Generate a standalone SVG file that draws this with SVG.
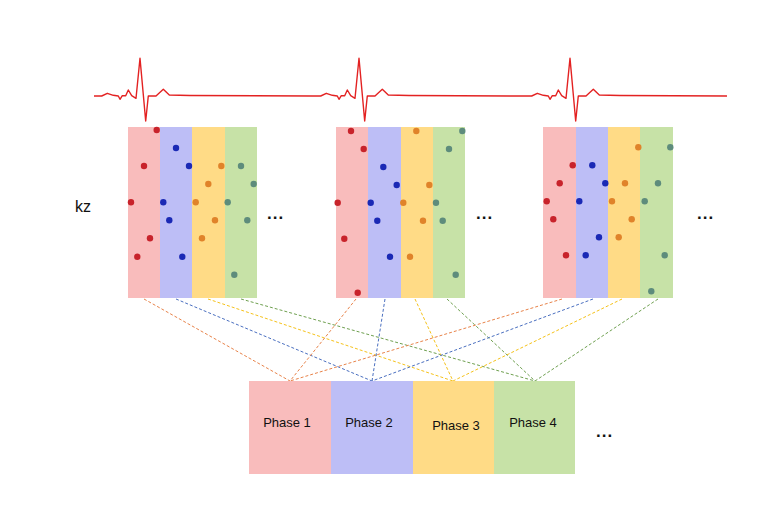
<svg xmlns="http://www.w3.org/2000/svg" width="784" height="517" viewBox="0 0 784 517">
<style>
.pk{fill:#F9BCBC}.bl{fill:#BDBEF6}.ye{fill:#FFDB86}.gr{fill:#C7E2A7}
.dr{fill:#C8232B}.db{fill:#1A29B5}.do{fill:#E0832A}.dg{fill:#5E8C7C}
.lo{stroke:#E8834A}.lb{stroke:#4A6FC0}.ly{stroke:#F5C21B}.lg{stroke:#6FA050}
#connectors line{stroke-width:1;stroke-dasharray:3 2;fill:none}
text{font-family:"Liberation Sans",Arial,sans-serif;fill:#111}
.ph{font-size:13px;text-anchor:middle}
.dots{font-size:17px;font-weight:bold;letter-spacing:1px}
</style>
<rect width="784" height="517" fill="#fff"/>
<g id="ecg">
<polyline fill="none" stroke="#E32222" stroke-width="1.4" stroke-linejoin="round" points="94,96 101.7,96 107.3,93.3 113.3,95.3 118.3,96 120,99.3 122.3,95.7 125.7,95.7 128.3,90 131.7,95.7 136,98.3 140,58.3 145.7,121 148.3,96 156,96 163.3,89.3 169.3,95 190,95.5 313,96 320.7,96 326.3,93.3 332.3,95.3 337.3,96 339,99.3 341.3,95.7 344.7,95.7 347.3,90 350.7,95.7 355,98.3 359,58.3 364.7,121 367.3,96 375,96 382.3,89.3 388.3,95 409,95.5 524,96 531.7,96 537.3,93.3 543.3,95.3 548.3,96 550,99.3 552.3,95.7 555.7,95.7 558.3,90 561.7,95.7 566,98.3 570,58.3 575.7,121 578.3,96 586,96 593.3,89.3 599.3,95 620,95.5 727,96"/>
</g>
<g id="label-kz"><text x="75" y="212" font-size="16">kz</text></g>
<g id="connectors">
<line class="lo" x1="144" y1="299" x2="290" y2="381"/>
<line class="lb" x1="176" y1="299" x2="372" y2="381"/>
<line class="ly" x1="208" y1="299" x2="453" y2="381"/>
<line class="lg" x1="241" y1="299" x2="535" y2="381"/>
<line class="lo" x1="356" y1="299" x2="290" y2="381"/>
<line class="lb" x1="385" y1="299" x2="372" y2="381"/>
<line class="ly" x1="415" y1="299" x2="453" y2="381"/>
<line class="lg" x1="447" y1="299" x2="535" y2="381"/>
<line class="lo" x1="562" y1="299" x2="290" y2="381"/>
<line class="lb" x1="593" y1="299" x2="372" y2="381"/>
<line class="ly" x1="622" y1="299" x2="453" y2="381"/>
<line class="lg" x1="658" y1="299" x2="535" y2="381"/>
</g>
<g id="block1">
<rect class="pk" x="128" y="127" width="32" height="171"/>
<rect class="bl" x="160" y="127" width="32" height="171"/>
<rect class="ye" x="192" y="127" width="33" height="171"/>
<rect class="gr" x="225" y="127" width="32" height="171"/>
<g class="dr"><circle cx="156.7" cy="130" r="3.2"/><circle cx="144" cy="166" r="3.2"/><circle cx="131" cy="202.3" r="3.2"/><circle cx="150" cy="238.3" r="3.2"/><circle cx="137.3" cy="256.7" r="3.2"/></g>
<g class="db"><circle cx="176" cy="148" r="3.2"/><circle cx="189" cy="166" r="3.2"/><circle cx="163.3" cy="202.3" r="3.2"/><circle cx="169.3" cy="220.3" r="3.2"/><circle cx="182.3" cy="256.7" r="3.2"/></g>
<g class="do"><circle cx="221.3" cy="166" r="3.2"/><circle cx="208.3" cy="184" r="3.2"/><circle cx="195.7" cy="202.3" r="3.2"/><circle cx="215" cy="220.3" r="3.2"/><circle cx="202" cy="238.3" r="3.2"/></g>
<g class="dg"><circle cx="241" cy="166" r="3.2"/><circle cx="253.7" cy="184" r="3.2"/><circle cx="227.7" cy="202.3" r="3.2"/><circle cx="247.3" cy="220.3" r="3.2"/><circle cx="234.3" cy="274.7" r="3.2"/></g>
</g>
<g id="dots1"><text class="dots" x="267" y="219">...</text></g>
<g id="block2">
<rect class="pk" x="336" y="127" width="32" height="171"/>
<rect class="bl" x="368" y="127" width="33" height="171"/>
<rect class="ye" x="401" y="127" width="32" height="171"/>
<rect class="gr" x="433" y="127" width="32" height="171"/>
<g class="dr"><circle cx="351" cy="131" r="3.2"/><circle cx="363.7" cy="149" r="3.2"/><circle cx="337.7" cy="202.7" r="3.2"/><circle cx="344.3" cy="238.7" r="3.2"/><circle cx="357.7" cy="292.7" r="3.2"/></g>
<g class="db"><circle cx="383.3" cy="167" r="3.2"/><circle cx="396.7" cy="185" r="3.2"/><circle cx="370.7" cy="202.7" r="3.2"/><circle cx="377.3" cy="220.7" r="3.2"/><circle cx="390" cy="256.7" r="3.2"/></g>
<g class="do"><circle cx="416.3" cy="131" r="3.2"/><circle cx="429.3" cy="185" r="3.2"/><circle cx="403.3" cy="202.7" r="3.2"/><circle cx="423" cy="220.7" r="3.2"/><circle cx="410" cy="256.7" r="3.2"/></g>
<g class="dg"><circle cx="462.3" cy="131" r="3.2"/><circle cx="449" cy="149" r="3.2"/><circle cx="436" cy="202.7" r="3.2"/><circle cx="442.7" cy="220.7" r="3.2"/><circle cx="455.7" cy="274.7" r="3.2"/></g>
</g>
<g id="dots2"><text class="dots" x="476" y="219">...</text></g>
<g id="block3">
<rect class="pk" x="543" y="127" width="33" height="171"/>
<rect class="bl" x="576" y="127" width="32" height="171"/>
<rect class="ye" x="608" y="127" width="32" height="171"/>
<rect class="gr" x="640" y="127" width="33" height="171"/>
<g class="dr"><circle cx="572.7" cy="165.3" r="3.2"/><circle cx="559.7" cy="183.3" r="3.2"/><circle cx="546.7" cy="201.3" r="3.2"/><circle cx="553.3" cy="219.3" r="3.2"/><circle cx="566" cy="255.3" r="3.2"/></g>
<g class="db"><circle cx="592.3" cy="165.3" r="3.2"/><circle cx="605.3" cy="183.3" r="3.2"/><circle cx="579.3" cy="201.3" r="3.2"/><circle cx="599" cy="237.3" r="3.2"/><circle cx="585.7" cy="255.3" r="3.2"/></g>
<g class="do"><circle cx="638.3" cy="147.3" r="3.2"/><circle cx="625" cy="183.3" r="3.2"/><circle cx="612" cy="201.3" r="3.2"/><circle cx="631.7" cy="219.3" r="3.2"/><circle cx="618.7" cy="237.3" r="3.2"/></g>
<g class="dg"><circle cx="670.3" cy="147.3" r="3.2"/><circle cx="658" cy="183.3" r="3.2"/><circle cx="644.7" cy="201.3" r="3.2"/><circle cx="664.7" cy="255.3" r="3.2"/><circle cx="651.3" cy="291.3" r="3.2"/></g>
</g>
<g id="dots3"><text class="dots" x="697" y="219">...</text></g>
<g id="phase1"><rect class="pk" x="249" y="381" width="82" height="93"/><text class="ph" x="287" y="427">Phase 1</text></g>
<g id="phase2"><rect class="bl" x="331" y="381" width="82" height="93"/><text class="ph" x="369" y="427">Phase 2</text></g>
<g id="phase3"><rect class="ye" x="413" y="381" width="81" height="93"/><text class="ph" x="456" y="430">Phase 3</text></g>
<g id="phase4"><rect class="gr" x="494" y="381" width="81" height="93"/><text class="ph" x="533" y="427">Phase 4</text></g>
<g id="dots4"><text class="dots" x="596" y="437">...</text></g>
</svg>
